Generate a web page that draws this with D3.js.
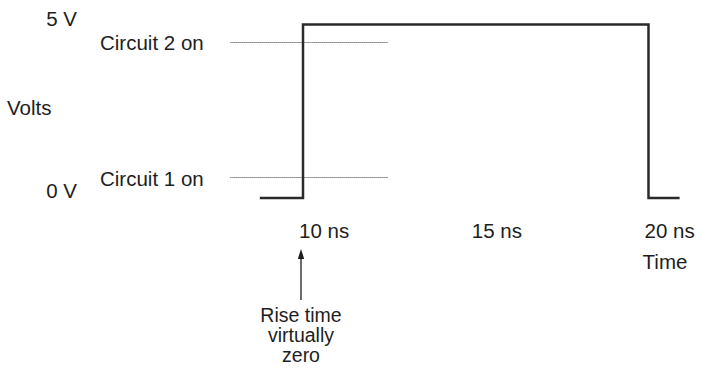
<!DOCTYPE html>
<html>
<head>
<meta charset="utf-8">
<script src="https://cdn.jsdelivr.net/npm/d3@7"></script>
<style>
  html, body { margin: 0; padding: 0; background: #fff; }
  svg text { font-family: "Liberation Sans", Arial, Helvetica, sans-serif; fill: #1e1e1e; }
</style>
</head>
<body>
<svg id="chart" width="702" height="375"></svg>
<script>
// Square pulse: time (ns) and voltage (V) at each corner of the trace
const pulseTime = [8.75, 10, 10, 20, 20, 20.9];
const pulseVolts = [0, 0, 5, 5, 0, 0];

// Logic thresholds drawn as dotted reference lines
const thresholdLabels = ["Circuit 2 on", "Circuit 1 on"];
const thresholdVolts = [4.5, 0.6];
const thresholdSpan = [7.9, 12.45];

// Axis tick labels
const timeTicks = [10, 15, 20];
const timeTickLabels = ["10 ns", "15 ns", "20 ns"];
const voltTicks = [5, 0];
const voltTickLabels = ["5 V", "0 V"];

const noteLines = ["Rise time", "virtually", "zero"];

const fontSize = 20.5;
const svg = d3.select("#chart");

const x = d3.scaleLinear().domain([10, 20]).range([303, 648.5]);
const y = d3.scaleLinear().domain([0, 5]).range([198, 24.5]);

// Dotted threshold lines
svg.selectAll("line.threshold")
  .data(thresholdVolts)
  .join("line")
  .attr("class", "threshold")
  .attr("x1", x(thresholdSpan[0]))
  .attr("x2", x(thresholdSpan[1]))
  .attr("y1", d => Math.round(y(d)) + 0.5)
  .attr("y2", d => Math.round(y(d)) + 0.5)
  .attr("stroke", "#3a3a3a")
  .attr("stroke-width", 1)
  .attr("stroke-dasharray", "1,1");

// Threshold labels
svg.selectAll("text.threshold")
  .data(thresholdVolts)
  .join("text")
  .attr("class", "threshold")
  .attr("x", 100)
  .attr("y", d => y(d) + 8.5)
  .attr("font-size", fontSize)
  .text((d, i) => thresholdLabels[i]);

// Pulse trace
const line = d3.line()
  .x((d, i) => x(pulseTime[i]))
  .y(d => y(d))
  .curve(d3.curveLinear);

svg.append("path")
  .datum(pulseVolts)
  .attr("d", line)
  .attr("fill", "none")
  .attr("stroke", "#2a2a2a")
  .attr("stroke-width", 2.5)
  .attr("stroke-linejoin", "miter")
  .attr("stroke-linecap", "butt");

// Voltage labels
svg.selectAll("text.vtick")
  .data(voltTicks)
  .join("text")
  .attr("class", "vtick")
  .attr("x", 77)
  .attr("y", d => y(d) + (d > 0 ? 1.5 : 0))
  .attr("text-anchor", "end")
  .attr("font-size", fontSize)
  .text((d, i) => voltTickLabels[i]);

svg.append("text")
  .attr("x", 7)
  .attr("y", 115)
  .attr("font-size", fontSize)
  .text("Volts");

// Time labels
svg.selectAll("text.ttick")
  .data(timeTicks)
  .join("text")
  .attr("class", "ttick")
  .attr("x", d => x(d) - 4)
  .attr("y", 238)
  .attr("font-size", fontSize)
  .text((d, i) => timeTickLabels[i]);

svg.append("text")
  .attr("x", x(20) + 16.5)
  .attr("y", 269)
  .attr("text-anchor", "middle")
  .attr("font-size", fontSize)
  .text("Time");

// Arrow pointing at the rising edge
const ax = x(10) - 2;
svg.append("line")
  .attr("x1", ax).attr("x2", ax)
  .attr("y1", 257).attr("y2", 300)
  .attr("stroke", "#1e1e1e")
  .attr("stroke-width", 1.3);

svg.append("path")
  .attr("d", `M${ax},249 L${ax - 3.2},259 L${ax + 3.2},259 Z`)
  .attr("fill", "#1e1e1e");

// Annotation under the arrow, one text block with a line per tspan
const note = svg.append("text")
  .attr("class", "note")
  .attr("x", ax)
  .attr("y", 321.5)
  .attr("text-anchor", "middle")
  .attr("font-size", 19.5);

note.selectAll("tspan")
  .data(noteLines)
  .join("tspan")
  .attr("x", ax)
  .attr("dy", (d, i) => (i === 0 ? 0 : 20.1))
  .text(d => d);
</script>
</body>
</html>
